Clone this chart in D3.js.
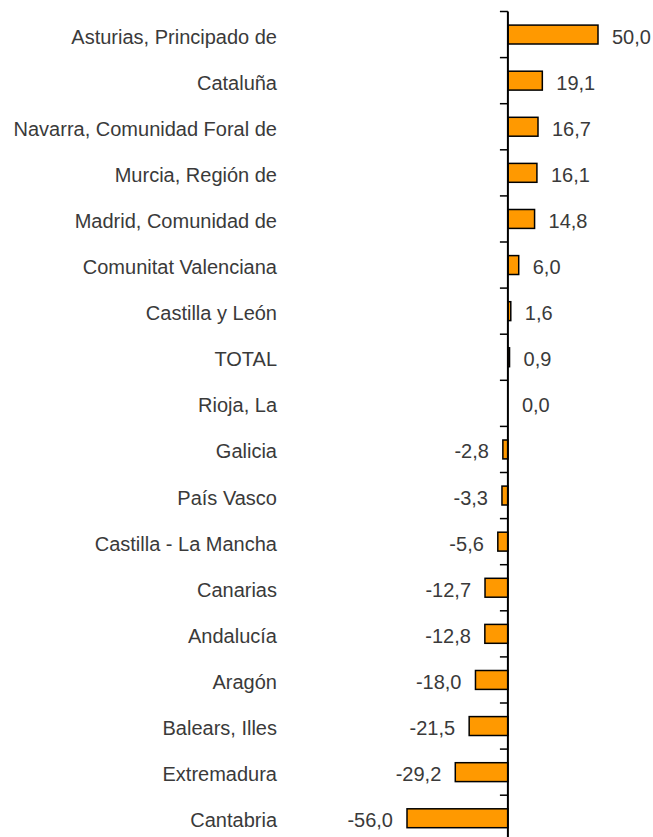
<!DOCTYPE html>
<html><head><meta charset="utf-8">
<script src="https://cdn.jsdelivr.net/npm/d3@7"></script>
<style>body{margin:0;background:#fff;} svg{display:block;} text{font-family:Arial,"Liberation Sans",sans-serif;}</style>
</head><body>
<svg id="chart" width="653" height="837"></svg>
<script>
const categories = ["Asturias, Principado de","Cataluña","Navarra, Comunidad Foral de","Murcia, Región de","Madrid, Comunidad de","Comunitat Valenciana","Castilla y León","TOTAL","Rioja, La","Galicia","País Vasco","Castilla - La Mancha","Canarias","Andalucía","Aragón","Balears, Illes","Extremadura","Cantabria"];
const values = [50.0,19.1,16.7,16.1,14.8,6.0,1.6,0.9,0.0,-2.8,-3.3,-5.6,-12.7,-12.8,-18.0,-21.5,-29.2,-56.0];

const svg = d3.select("#chart");
const x = d3.scaleLinear().domain([-56, 50]).range([407, 598]);
const y = d3.scaleBand().domain(categories).range([11.5, 841.3]).paddingInner(0.59).paddingOuter(0.295);
const yTicks = d3.scaleBand().domain(categories).range([11.5, 841.3]);
const fmt = v => v.toFixed(1).replace(".", ",");

// bars
svg.append("g").selectAll("rect").data(values).join("rect")
  .attr("x", d => x(Math.min(0, d)))
  .attr("width", d => Math.abs(x(d) - x(0)))
  .attr("y", (d, i) => y(categories[i]))
  .attr("height", y.bandwidth())
  .attr("fill", "#ff9900")
  .attr("stroke", "#000")
  .attr("stroke-width", 1.5);

// axis line and ticks
const ax = svg.append("g");
ax.append("line").attr("x1", x(0)).attr("x2", x(0)).attr("y1", 11.5).attr("y2", 837)
  .attr("stroke", "#000").attr("stroke-width", 2);
ax.selectAll("line.t").data(categories).join("line").attr("class", "t")
  .attr("x1", x(0) - 8).attr("x2", x(0))
  .attr("y1", d => yTicks(d)).attr("y2", d => yTicks(d))
  .attr("stroke", "#000").attr("stroke-width", 1.5);

// category labels
svg.append("g").selectAll("text").data(categories).join("text")
  .attr("x", 277)
  .attr("y", d => y(d) + y.bandwidth() / 2)
  .attr("dy", "0.45em")
  .attr("text-anchor", "end")
  .attr("font-size", 20)
  .attr("fill", "#3a3a3a")
  .text(d => d);

// value labels
svg.append("g").selectAll("text").data(values).join("text")
  .attr("x", d => d < 0 ? x(d) - 14 : x(d) + 14)
  .attr("y", (d, i) => y(categories[i]) + y.bandwidth() / 2)
  .attr("dy", "0.45em")
  .attr("text-anchor", d => d < 0 ? "end" : "start")
  .attr("font-size", 20)
  .attr("fill", "#3a3a3a")
  .text(d => fmt(d));
</script>
</body></html>
